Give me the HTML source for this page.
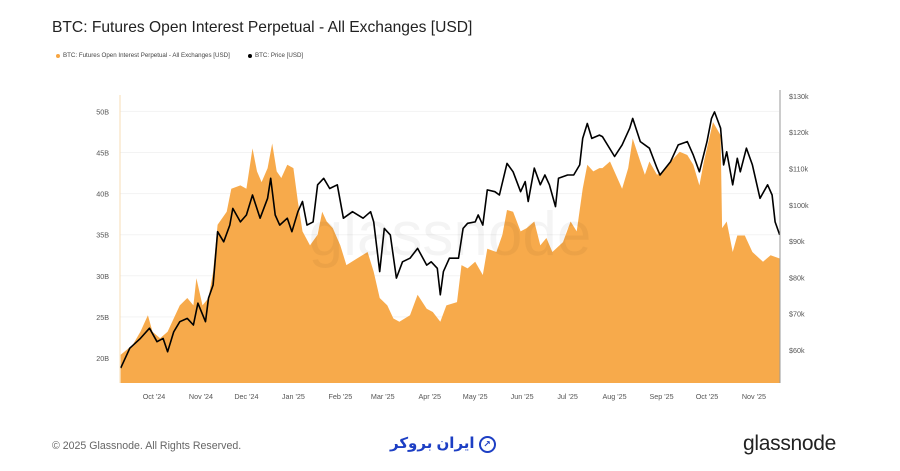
<!DOCTYPE html>
<html><head><meta charset="utf-8">
<style>
body{margin:0;background:#fff;font-family:"Liberation Sans",sans-serif;}
#wrap{position:relative;width:900px;height:471px;overflow:hidden;background:#fff;}
.title{position:absolute;left:52px;top:19px;font-size:15.6px;color:#222;}
.legend{position:absolute;top:52px;font-size:6.2px;color:#444;display:flex;align-items:center;white-space:nowrap;}
.dot{width:4px;height:4px;border-radius:50%;margin-right:3px;display:inline-block;}
.footer-left{position:absolute;left:52px;top:440px;font-size:10.6px;color:#666;}
.brand{position:absolute;left:743px;top:432px;font-size:21px;color:#222;letter-spacing:-0.3px;}
.fa{position:absolute;left:390px;top:434px;font-size:15px;color:#1d3fc4;font-weight:bold;font-family:"Liberation Sans","DejaVu Sans",sans-serif;}
</style></head>
<body>
<div id="wrap">
<div class="title">BTC: Futures Open Interest Perpetual - All Exchanges [USD]</div>
<div class="legend" style="left:56px"><span class="dot" style="background:#f7a541"></span>BTC: Futures Open Interest Perpetual - All Exchanges [USD]</div>
<div class="legend" style="left:248px"><span class="dot" style="background:#000"></span>BTC: Price [USD]</div>
<svg id="chart" width="900" height="471" style="position:absolute;left:0;top:0"></svg>
<div class="footer-left">© 2025 Glassnode. All Rights Reserved.</div>
<div class="fa">ایران بروکر<span style="border:2px solid #1d3fc4;border-radius:50%;display:inline-block;width:13px;height:13px;font-size:9px;text-align:center;line-height:13px;vertical-align:middle;margin-left:4px">↗</span></div>
<div class="brand">glassnode</div>
</div>
<script>
const monthLabels = ["Oct '24","Nov '24","Dec '24","Jan '25","Feb '25","Mar '25","Apr '25","May '25","Jun '25","Jul '25","Aug '25","Sep '25","Oct '25","Nov '25"];
const monthDays = [0,31,61,92,123,151,182,212,243,273,304,335,365,396];
const leftTicks = [20,25,30,35,40,45,50];
const rightTicks = [60,70,80,90,100,110,120,130];
const oiDays = [-22,-14,-9,-4,-1,4,9,13,17,22,26,28,32,36,39,42,48,51,57,61,65,68,71,75,78,81,84,88,92,95,98,103,108,111,114,118,123,127,134,141,145,149,154,158,162,169,174,180,184,189,193,200,203,207,212,217,220,226,230,233,237,242,246,251,255,259,263,270,275,279,283,286,290,294,296,301,309,313,316,321,324,327,332,336,341,347,352,356,360,363,369,374,375,378,382,385,390,395,402,407,413];
const oiValues = [20.4,21.6,23.2,25.2,23.2,22.4,23.2,24.8,26.4,27.3,26.4,29.7,26.4,27.3,30.5,36.2,37.8,40.6,41.0,40.6,45.5,42.7,41.4,43.1,46.1,42.7,41.9,43.5,43.1,39.0,35.4,33.7,35.0,37.8,36.6,35.8,33.7,31.3,32.1,32.9,30.5,27.3,26.4,24.8,24.4,25.2,27.7,26.0,25.6,24.4,26.4,26.8,31.3,30.9,31.7,30.1,33.3,32.9,35.0,38.0,37.8,35.4,35.8,36.6,33.7,34.6,32.9,34.1,36.6,35.4,40.6,43.5,42.7,43.1,43.1,43.9,40.6,43.1,46.7,43.9,42.3,43.9,42.3,42.7,43.9,45.1,44.7,43.5,41.0,43.9,48.7,47.1,35.8,36.6,32.9,34.9,34.9,32.9,31.7,32.5,32.1];
const priceDays = [-22,-16,-9,-3,2,6,9,13,17,22,26,29,34,36,39,42,46,50,52,57,61,65,70,75,77,80,83,88,91,95,98,101,105,108,112,116,121,125,131,138,143,145,149,152,156,160,164,169,174,180,183,187,189,191,195,201,204,207,212,214,217,220,225,228,233,237,242,245,247,251,255,258,261,265,267,273,277,281,283,286,289,294,296,304,309,314,316,321,327,332,334,341,346,352,356,360,365,368,370,374,376,378,382,385,387,391,395,400,405,408,410,413];
const priceValues = [55.0,60.5,63.2,66.0,62.3,63.2,59.5,65.0,67.8,68.7,66.9,72.9,67.8,74.3,77.9,92.6,89.8,94.4,99.0,95.3,97.2,102.7,96.3,101.8,107.3,97.2,94.4,96.3,92.6,98.1,100.9,94.4,95.3,105.5,107.3,104.5,105.5,96.3,98.1,96.3,98.1,95.3,81.6,93.5,91.7,79.8,84.3,85.3,88.0,83.4,84.3,82.5,75.2,81.6,85.3,85.3,93.5,94.9,95.3,97.2,94.4,104.1,103.6,102.7,111.4,109.1,103.6,106.4,100.9,110.1,105.5,108.2,105.5,99.5,107.3,108.2,108.2,111.0,118.3,122.4,118.3,119.2,118.8,113.3,116.5,121.1,123.8,117.4,115.6,110.1,108.2,111.9,116.5,117.4,113.7,109.1,117.4,123.8,125.6,121.1,111.0,114.6,105.5,112.8,109.1,115.6,111.0,101.8,105.5,102.7,95.3,91.7];

const NS = "http://www.w3.org/2000/svg";
const svg = document.getElementById('chart');
const X0 = 120, X1 = 779, Y0 = 95, Y1 = 383;
const xDay = d => 154 + d * 1.515;
const yOI = v => 358 - (v - 20) * 8.22;
const yPrice = v => 350 - (v - 60) * 3.63;
function mk(tag, attrs){const e=document.createElementNS(NS,tag);for(const k in attrs)e.setAttribute(k,attrs[k]);svg.appendChild(e);return e;}

leftTicks.forEach(t=>{
  const y=yOI(t);
  const g=mk('line',{x1:X0,x2:X1,y1:y,y2:y,stroke:'#f3f3f3','stroke-width':1});
  
  
  const tx=mk('text',{x:109,y:y+3,'text-anchor':'end','font-size':7.2,fill:'#555','font-family':'Liberation Sans, sans-serif'});
  tx.textContent=t+'B';
  
  
});
rightTicks.forEach(t=>{
  const y=yPrice(t);
  const tx=mk('text',{x:789,y:y+3,'font-size':7.2,fill:'#555','font-family':'Liberation Sans, sans-serif'});
  tx.textContent='$'+t+'k';
  
  
});
monthLabels.forEach((m,i)=>{
  const x=xDay(monthDays[i]);
  const tx=mk('text',{x:x,y:399,'text-anchor':'middle','font-size':7.2,fill:'#555','font-family':'Liberation Sans, sans-serif'});
  tx.textContent=m;
  
  
});

let d='M'+xDay(oiDays[0])+','+Y1;
oiDays.forEach((dd,i)=>{d+=' L'+xDay(dd).toFixed(1)+','+yOI(oiValues[i]).toFixed(1);});
d+=' L'+xDay(oiDays[oiDays.length-1])+','+Y1+' Z';
const area=mk('path',{d:d,fill:'#f7a541',opacity:0.95});



const wm=mk('text',{x:450,y:255,'text-anchor':'middle','font-size':62,fill:'rgba(0,0,0,0.045)','font-family':'Liberation Sans, sans-serif'});
wm.textContent='glassnode';



let pd='';
priceDays.forEach((dd,i)=>{pd+=(i?' L':'M')+xDay(dd).toFixed(1)+','+yPrice(priceValues[i]).toFixed(1);});
const line=mk('path',{d:pd,fill:'none',stroke:'#000','stroke-width':1.6,'stroke-linejoin':'round'});



const la=mk('line',{x1:X0,x2:X0,y1:Y0,y2:Y1,stroke:'#f7dcb5','stroke-width':1});


const ra=mk('line',{x1:X1+1,x2:X1+1,y1:Y0-5,y2:Y1,stroke:'#999','stroke-width':1});


</script>
</body></html>
